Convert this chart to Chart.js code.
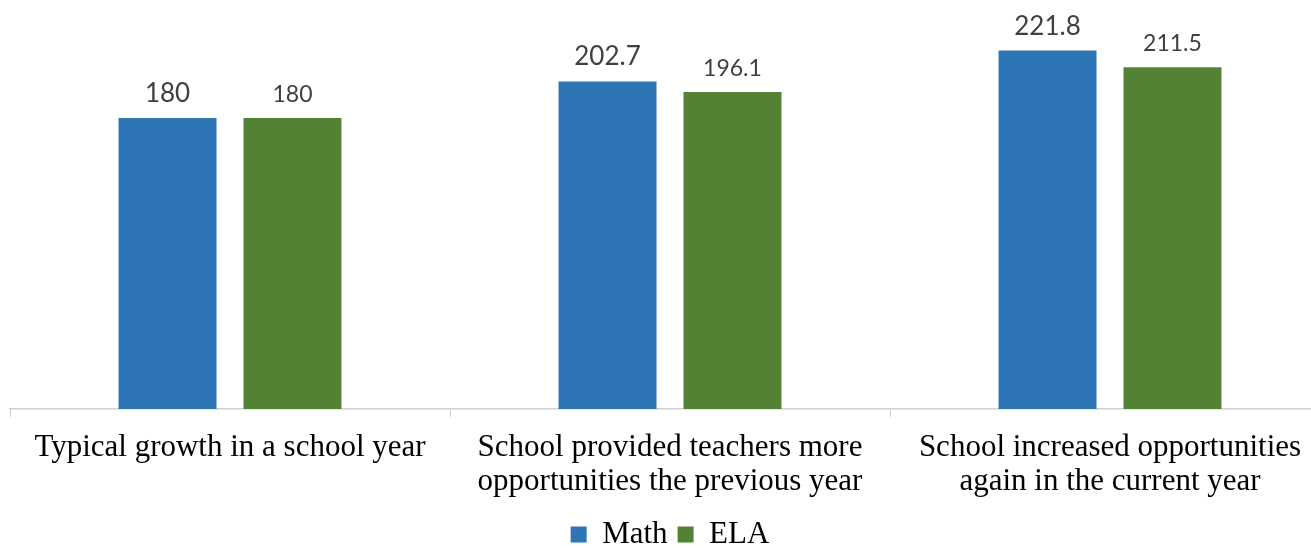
<!DOCTYPE html>
<html>
<head>
<meta charset="utf-8">
<script src="https://cdn.jsdelivr.net/npm/chart.js@4.4.1/dist/chart.umd.min.js"></script>
<style>
  html, body { margin: 0; padding: 0; background: #fff; }
  #wrap { width: 1311px; height: 548px; overflow: hidden; position: relative; }
  canvas { position: absolute; left: 0; top: 0; }
</style>
</head>
<body>
<div id="wrap"><canvas id="chart" width="1340" height="560"></canvas></div>
<script>
// categories and series
const categories = [
  ['Typical growth in a school year'],
  ['School provided teachers more', 'opportunities the previous year'],
  ['School increased opportunities', 'again in the current year']
];
const mathValues = [180, 202.7, 221.8];
const elaValues = [180, 196.1, 211.5];

// value labels above bars, math labels a bit bigger than ELA
const barLabels = {
  id: 'barLabels',
  afterDatasetsDraw(chart) {
    const ctx = chart.ctx;
    const fonts = ['26px Lato', '23px Lato'];
    chart.data.datasets.forEach((ds, i) => {
      const meta = chart.getDatasetMeta(i);
      ctx.save();
      ctx.font = fonts[i];
      ctx.fillStyle = '#404040';
      ctx.textAlign = 'center';
      ctx.textBaseline = 'alphabetic';
      meta.data.forEach((bar, j) => {
        ctx.fillText(String(ds.data[j]), bar.x, bar.y - 16);
      });
      ctx.restore();
    });
  }
};

const ctx = document.getElementById('chart').getContext('2d');
new Chart(ctx, {
  type: 'bar',
  data: {
    labels: categories,
    datasets: [
      { label: 'Math', data: mathValues, backgroundColor: '#2E75B6',
        categoryPercentage: 0.568, barPercentage: 0.784 },
      { label: 'ELA', data: elaValues, backgroundColor: '#548235',
        categoryPercentage: 0.568, barPercentage: 0.784 }
    ]
  },
  options: {
    responsive: false,
    animation: false,
    layout: { padding: { left: 10, right: 10, top: 5, bottom: 0 } },
    plugins: {
      legend: {
        position: 'bottom',
        labels: {
          boxWidth: 16,
          boxHeight: 16,
          padding: 10,
          color: '#000',
          font: { family: 'Liberation Serif', size: 31 }
        }
      },
      tooltip: { enabled: false }
    },
    scales: {
      x: {
        grid: { display: true, drawOnChartArea: false, drawTicks: true, tickLength: 8, color: '#d0d0d0', offset: true },
        border: { display: true, color: '#d0d0d0', width: 1.5 },
        ticks: {
          color: '#000', padding: 14, maxRotation: 0, autoSkip: false,
          font: { family: 'Liberation Serif', size: 31, lineHeight: 1.1 }
        },
        afterFit: s => { s.height = 100; }
      },
      y: { display: false, min: 0, max: 250 }
    }
  },
  plugins: [barLabels]
});
</script>
</body>
</html>
